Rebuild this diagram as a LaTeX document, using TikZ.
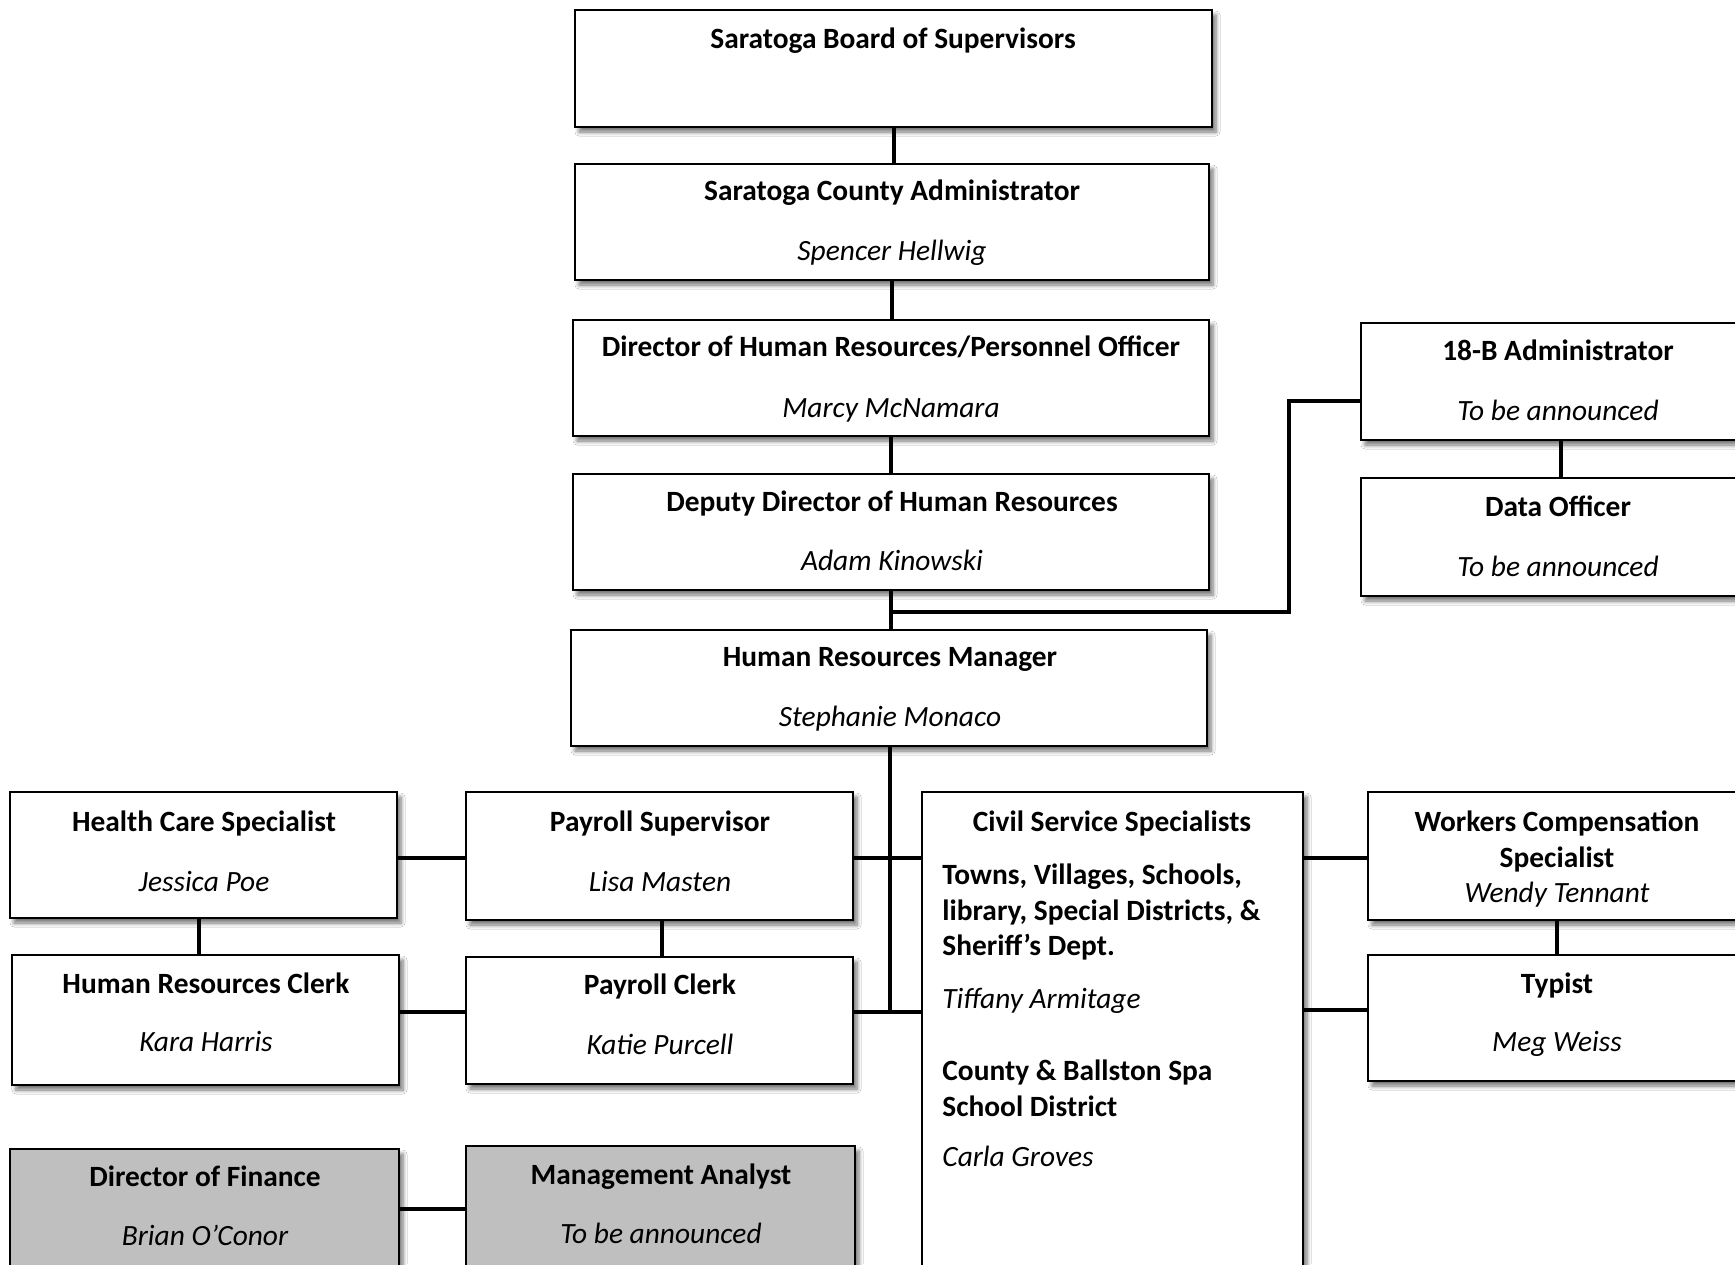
\documentclass[tikz,border=0pt]{standalone}
\usepackage{fontspec}
\setmainfont{Carlito}
\usetikzlibrary{fit,shadows.blur}
\definecolor{boxgray}{RGB}{191,191,191}
\begin{document}
\begin{tikzpicture}[x=0.5pt,y=-0.5pt,
  box/.style={draw=black, line width=0.8pt, fill=white, inner sep=0pt,
    blur shadow={shadow xshift=2pt, shadow yshift=-2.5pt, shadow blur radius=2pt, shadow blur steps=6, shadow opacity=55}},
  graybox/.style={box, fill=boxgray},
  conn/.style={draw=black, line width=2pt},
  ttl/.style={anchor=base, inner sep=0pt, font=\fontsize{14.7}{17.7}\selectfont\bfseries},
  nm/.style={anchor=base, inner sep=0pt, font=\fontsize{14.7}{17.7}\selectfont\itshape},
  lttl/.style={ttl, anchor=base west},
  lnm/.style={nm, anchor=base west}]
\useasboundingbox (0,0) rectangle (1735,1264);
\fill[white] (0,0) rectangle (1735,1264);
\clip (0,0) rectangle (1735,1264);

% boxes
\node[box, fit={(575,10) (1212,127)}] (board) {};
\node[box, fit={(575,164) (1209,280)}] (admin) {};
\node[box, fit={(573,320) (1209,436)}] (dir) {};
\node[box, fit={(573,474) (1209,590)}] (dep) {};
\node[box, fit={(571,630) (1207,746)}] (mgr) {};
\node[box, fit={(1361,323) (1750,440)}] (b18) {};
\node[box, fit={(1361,478) (1750,596)}] (data) {};
\node[box, fit={(10,792) (397,918)}] (health) {};
\node[box, fit={(12,955) (399,1085)}] (hrclerk) {};
\node[box, fit={(466,792) (853,920)}] (psup) {};
\node[box, fit={(466,957) (853,1084)}] (pclerk) {};
\node[box, fit={(922,792) (1303,1300)}] (civil) {};
\node[box, fit={(1368,792) (1750,920)}] (workers) {};
\node[box, fit={(1368,955) (1750,1081)}] (typist) {};
\node[graybox, fit={(10,1149) (399,1300)}] (finance) {};
\node[graybox, fit={(466,1146) (855,1300)}] (mgmt) {};

% texts
\node[ttl] (board-t) at (893,48) {Saratoga Board of Supervisors};
\node[ttl] (admin-t) at (892,200) {Saratoga County Administrator};
\node[nm] (admin-n) at (892,260) {Spencer Hellwig};
\node[ttl] (dir-t) at (891,356) {Director of Human Resources/Personnel Officer};
\node[nm] (dir-n) at (891,417) {Marcy McNamara};
\node[ttl] (dep-t) at (892,511) {Deputy Director of Human Resources};
\node[nm] (dep-n) at (892,570) {Adam Kinowski};
\node[ttl] (mgr-t) at (890,666) {Human Resources Manager};
\node[nm] (mgr-n) at (890,726) {Stephanie Monaco};
\node[ttl] (b18-t) at (1558,360) {18-B Administrator};
\node[nm] (b18-n) at (1558,420) {To be announced};
\node[ttl] (data-t) at (1558,516) {Data Officer};
\node[nm] (data-n) at (1558,576) {To be announced};
\node[ttl] (health-t) at (204,831) {Health Care Specialist};
\node[nm] (health-n) at (204,891) {Jessica Poe};
\node[ttl] (hrclerk-t) at (206,993) {Human Resources Clerk};
\node[nm] (hrclerk-n) at (206,1051) {Kara Harris};
\node[ttl] (psup-t) at (660,831) {Payroll Supervisor};
\node[nm] (psup-n) at (660,891) {Lisa Masten};
\node[ttl] (pclerk-t) at (660,994) {Payroll Clerk};
\node[nm] (pclerk-n) at (660,1054) {Katie Purcell};
\node[ttl] (workers-t1) at (1557,831) {Workers Compensation};
\node[ttl] (workers-t2) at (1557,867) {Specialist};
\node[nm] (workers-n) at (1557,902) {Wendy Tennant};
\node[ttl] (typist-t) at (1557,993) {Typist};
\node[nm] (typist-n) at (1557,1051) {Meg Weiss};
\node[ttl] (finance-t) at (205,1186) {Director of Finance};
\node[nm] (finance-n) at (205,1245) {Brian O’Conor};
\node[ttl] (mgmt-t) at (661,1184) {Management Analyst};
\node[nm] (mgmt-n) at (661,1243) {To be announced};
\node[ttl] (civil-t) at (1112,831) {Civil Service Specialists};
\node[lttl] (civil-a1) at (942,884) {Towns, Villages, Schools,};
\node[lttl] (civil-a2) at (942,920) {library, Special Districts, \&};
\node[lttl] (civil-a3) at (942,955) {Sheriff’s Dept.};
\node[lnm] (civil-an) at (942,1008) {Tiffany Armitage};
\node[lttl] (civil-b1) at (942,1080) {County \& Ballston Spa};
\node[lttl] (civil-b2) at (942,1116) {School District};
\node[lnm] (civil-bn) at (942,1166) {Carla Groves};

% helper coordinates
\coordinate (j1) at (891,612);
\coordinate (j2) at (1289,612);
\coordinate (j3) at (1361,401);
\coordinate (x199) at (199,0);
\coordinate (x662) at (662,0);
\coordinate (x1557) at (1557,0);
\coordinate (x1561) at (1561,0);
\coordinate (mv) at (890,1012);
\coordinate (y858) at (0,858);
\coordinate (y1012) at (0,1012);
\coordinate (y1010) at (0,1010);
\coordinate (y1209) at (0,1209);

% connectors
\draw[conn] (board.south) -- (board.south |- admin.north);
\draw[conn] (admin.south) -- (admin.south |- dir.north);
\draw[conn] (dir.south) -- (dir.south |- dep.north);
\draw[conn] (dep.south -| j1) -- (mgr.north -| j1);
\draw[conn] (j1) -- (j2) |- (j3);
\draw[conn] (b18.south -| x1561) -- (data.north -| x1561);
\draw[conn] (mgr.south -| mv) -- (mv);
\draw[conn] (psup.east |- y858) -- (civil.west |- y858);
\draw[conn] (pclerk.east |- y1012) -- (civil.west |- y1012);
\draw[conn] (health.east |- y858) -- (psup.west |- y858);
\draw[conn] (hrclerk.east |- y1012) -- (pclerk.west |- y1012);
\draw[conn] (health.south -| x199) -- (hrclerk.north -| x199);
\draw[conn] (psup.south -| x662) -- (pclerk.north -| x662);
\draw[conn] (civil.east |- y858) -- (workers.west |- y858);
\draw[conn] (civil.east |- y1010) -- (typist.west |- y1010);
\draw[conn] (workers.south -| x1557) -- (typist.north -| x1557);
\draw[conn] (finance.east |- y1209) -- (mgmt.west |- y1209);
\end{tikzpicture}
\end{document}
